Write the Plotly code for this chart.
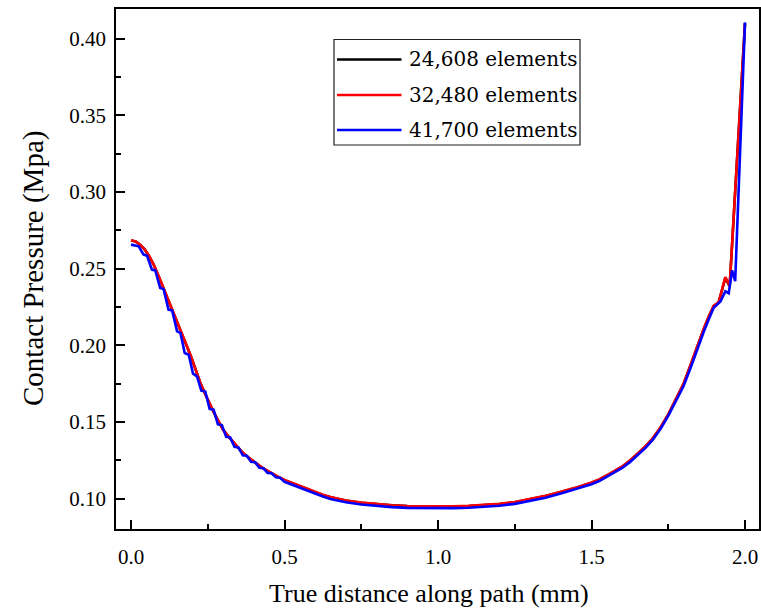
import plotly.graph_objects as go

# ---- data ----
series_names = ["24,608 elements", "32,480 elements", "41,700 elements"]
series_colors = ["#000000", "#ff0000", "#0000ff"]

red_x = [0.000, 0.015, 0.030, 0.045, 0.060, 0.075, 0.090, 0.105, 0.120, 0.135,
         0.150, 0.165, 0.180, 0.195, 0.210, 0.225, 0.240, 0.255, 0.270, 0.285,
         0.300, 0.315, 0.330, 0.345, 0.360, 0.375, 0.390, 0.405, 0.420, 0.435,
         0.450, 0.465, 0.480, 0.500, 0.525, 0.550, 0.575, 0.600, 0.625, 0.650,
         0.675, 0.700, 0.750, 0.800, 0.850, 0.900, 0.950, 1.000, 1.050, 1.100,
         1.150, 1.200, 1.250, 1.300, 1.350, 1.400, 1.450, 1.500, 1.525, 1.550,
         1.575, 1.600, 1.625, 1.650, 1.675, 1.700, 1.725, 1.750, 1.775, 1.800,
         1.825, 1.850, 1.865, 1.880, 1.898, 1.914, 1.936, 1.950, 2.000]
red_y = [0.2685, 0.2678, 0.2657, 0.2625, 0.2580, 0.2522, 0.2452, 0.2378, 0.2305, 0.2230,
         0.2158, 0.2082, 0.2005, 0.1930, 0.1845, 0.1760, 0.1690, 0.1622, 0.1562, 0.1505,
         0.1450, 0.1412, 0.1375, 0.1338, 0.1308, 0.1281, 0.1257, 0.1234, 0.1213, 0.1193,
         0.1175, 0.1158, 0.1142, 0.1122, 0.1102, 0.1083, 0.1064, 0.1045, 0.1025, 0.1010,
         0.0998, 0.0988, 0.0974, 0.0964, 0.0957, 0.0952, 0.0950, 0.0949, 0.0950, 0.0953,
         0.0958, 0.0966, 0.0978, 0.0996, 0.1018, 0.1045, 0.1072, 0.1105, 0.1125, 0.1152,
         0.1180, 0.1210, 0.1248, 0.1292, 0.1340, 0.1395, 0.1465, 0.1550, 0.1650, 0.1750,
         0.1885, 0.2030, 0.2105, 0.2180, 0.2258, 0.2280, 0.2445, 0.2388, 0.4100]

# 24,608-element result: lies underneath the other two curves everywhere
black_x = [0.000, 0.015, 0.030, 0.045, 0.060, 0.075, 0.090, 0.105, 0.120, 0.135,
           0.150, 0.165, 0.180, 0.195, 0.210, 0.225, 0.240, 0.255, 0.270, 0.285,
           0.300, 0.315, 0.330, 0.345, 0.360, 0.375, 0.390, 0.405, 0.420, 0.435,
           0.450, 0.465, 0.480, 0.500, 0.525, 0.550, 0.575, 0.600, 0.625, 0.650,
           0.675, 0.700, 0.750, 0.800, 0.850, 0.900, 0.950, 1.000, 1.050, 1.100,
           1.150, 1.200, 1.250, 1.300, 1.350, 1.400, 1.450, 1.500, 1.525, 1.550,
           1.575, 1.600, 1.625, 1.650, 1.675, 1.700, 1.725, 1.750, 1.775, 1.800,
           1.825, 1.850, 1.865, 1.880, 1.898, 1.914, 1.936, 1.950, 2.000]
black_y = [0.2684, 0.2677, 0.2656, 0.2624, 0.2579, 0.2521, 0.2451, 0.2377, 0.2304, 0.2229,
           0.2157, 0.2081, 0.2004, 0.1929, 0.1844, 0.1759, 0.1689, 0.1621, 0.1561, 0.1504,
           0.1449, 0.1411, 0.1374, 0.1337, 0.1307, 0.1280, 0.1256, 0.1233, 0.1212, 0.1192,
           0.1174, 0.1157, 0.1141, 0.1121, 0.1101, 0.1082, 0.1063, 0.1044, 0.1024, 0.1009,
           0.0997, 0.0987, 0.0973, 0.0963, 0.0956, 0.0951, 0.0949, 0.0948, 0.0949, 0.0952,
           0.0957, 0.0965, 0.0977, 0.0995, 0.1017, 0.1044, 0.1071, 0.1104, 0.1124, 0.1151,
           0.1179, 0.1209, 0.1247, 0.1291, 0.1339, 0.1394, 0.1464, 0.1549, 0.1649, 0.1749,
           0.1884, 0.2029, 0.2104, 0.2179, 0.2257, 0.2279, 0.2440, 0.2385, 0.4100]

blue_x = [0.000, 0.025, 0.041, 0.052, 0.068, 0.079, 0.095, 0.106, 0.122, 0.134,
          0.150, 0.161, 0.175, 0.188, 0.202, 0.215, 0.229, 0.242, 0.256, 0.269,
          0.283, 0.296, 0.310, 0.323, 0.337, 0.350, 0.364, 0.377, 0.391, 0.404,
          0.418, 0.431, 0.445, 0.458, 0.472, 0.485, 0.500, 0.525, 0.550, 0.575,
          0.600, 0.625, 0.650, 0.675, 0.700, 0.750, 0.800, 0.850, 0.900, 0.950,
          1.000, 1.050, 1.100, 1.150, 1.200, 1.250, 1.300, 1.350, 1.400, 1.450,
          1.500, 1.525, 1.550, 1.575, 1.600, 1.625, 1.650, 1.675, 1.700, 1.725,
          1.750, 1.775, 1.800, 1.825, 1.850, 1.865, 1.880, 1.898, 1.920, 1.936,
          1.947, 1.958, 1.968, 2.000]
blue_y = [0.2657, 0.2646, 0.2592, 0.2585, 0.2494, 0.2489, 0.2374, 0.2368, 0.2233, 0.2228,
          0.2091, 0.2081, 0.1950, 0.1939, 0.1815, 0.1798, 0.1705, 0.1699, 0.1585, 0.1580,
          0.1485, 0.1480, 0.1403, 0.1399, 0.1338, 0.1334, 0.1283, 0.1280, 0.1240, 0.1237,
          0.1202, 0.1199, 0.1168, 0.1166, 0.1139, 0.1137, 0.1110, 0.1090, 0.1071, 0.1052,
          0.1033, 0.1014, 0.0998, 0.0986, 0.0976, 0.0962, 0.0952, 0.0945, 0.0940, 0.0938,
          0.0937, 0.0938, 0.0941, 0.0946, 0.0954, 0.0966, 0.0984, 0.1006, 0.1033, 0.1061,
          0.1094, 0.1115, 0.1142, 0.1170, 0.1200, 0.1238, 0.1282, 0.1330, 0.1385, 0.1455,
          0.1540, 0.1638, 0.1735, 0.1865, 0.2010, 0.2085, 0.2160, 0.2245, 0.2287, 0.2352,
          0.2340, 0.2490, 0.2418, 0.4107]

x_ticks = [0.0, 0.5, 1.0, 1.5, 2.0]
y_ticks = [0.10, 0.15, 0.20, 0.25, 0.30, 0.35, 0.40]
x_title = "True distance along path (mm)"
y_title = "Contact Pressure (Mpa)"

xs = [black_x, red_x, blue_x]
ys = [black_y, red_y, blue_y]

SERIF = "Liberation Serif, Times New Roman, serif"

fig = go.Figure()
for name, col, x, y in zip(series_names, series_colors, xs, ys):
    fig.add_trace(go.Scatter(x=x, y=y, mode="lines", name=name,
                             line=dict(color=col, width=2.6), showlegend=False))

axis_common = dict(
    showline=True, linecolor="black", linewidth=1.5, mirror=True,
    ticks="inside", ticklen=9, tickwidth=1.5, tickcolor="black",
    showgrid=False, zeroline=False, automargin=False,
    tickfont=dict(family=SERIF, size=21, color="black"),
)

fig.update_xaxes(range=[-0.0489, 2.0456], tickvals=x_ticks, tickformat=".1f",
                 ticklabelstandoff=8,
                 minor=dict(dtick=0.25, tick0=0, ticks="inside", ticklen=5, tickwidth=1.5,
                            tickcolor="black", showgrid=False),
                 **axis_common)
fig.update_yaxes(range=[0.0802, 0.4194], tickvals=y_ticks, tickformat=".2f",
                 ticklabelstandoff=4,
                 minor=dict(dtick=0.025, tick0=0.1, ticks="inside", ticklen=5, tickwidth=1.5,
                            tickcolor="black", showgrid=False),
                 **axis_common)

# layout geometry (the page margin is removed below, so page px == figure px)
W, H = 761, 610
L, R, T, B = 116, 2, 9, 81
pw, ph = W - L - R, H - T - B
def px2x(px): return (px - L) / pw
def py2y(py): return (H - B - py) / ph

# custom legend (long line samples, boxed)
shapes = [dict(type="rect", xref="paper", yref="paper",
               x0=px2x(334), x1=px2x(580), y0=py2y(145), y1=py2y(39.5),
               line=dict(color="#222222", width=1.2), fillcolor="white", layer="above")]
annotations = []
rows = [59.5, 95, 130]
for name, col, ry in zip(series_names, series_colors, rows):
    shapes.append(dict(type="line", xref="paper", yref="paper",
                       x0=px2x(337), x1=px2x(401.5), y0=py2y(ry), y1=py2y(ry),
                       line=dict(color=col, width=2.6), layer="above"))
    annotations.append(dict(xref="paper", yref="paper", x=px2x(407), y=py2y(ry),
                            xanchor="left", yanchor="middle", showarrow=False,
                            text=name,
                            font=dict(family="DejaVu Serif", size=20, color="black")))

# axis titles
annotations.append(dict(xref="paper", yref="paper", x=px2x(429), y=py2y(593),
                        xanchor="center", yanchor="middle", showarrow=False,
                        text=x_title, font=dict(family=SERIF, size=26, color="black")))
annotations.append(dict(xref="paper", yref="paper", x=px2x(33), y=py2y(269),
                        xanchor="center", yanchor="middle", showarrow=False, textangle=-90,
                        text=y_title, font=dict(family=SERIF, size=29, color="black")))

fig.update_layout(
    width=W, height=H,
    margin=dict(l=L, r=R, t=T, b=B, autoexpand=False),
    paper_bgcolor="white", plot_bgcolor="white",
    font=dict(family=SERIF, color="black"),
    shapes=shapes, annotations=annotations,
    showlegend=False,
)

# remove the default page margin and scrollbars so the figure fills the window
fig.write_html("out.html",
               config={"displayModeBar": False},
               post_script="document.body.style.margin='0';"
                           "document.documentElement.style.overflow='hidden';"
                           "document.body.style.overflow='hidden';")
